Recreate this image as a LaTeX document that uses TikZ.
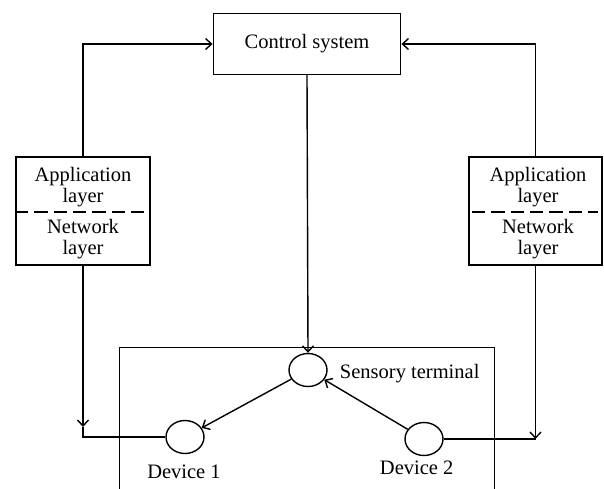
\documentclass[tikz,border=0pt]{standalone}
\usepackage{fontspec}
\setmainfont{Liberation Serif}
\usetikzlibrary{arrows.meta,shapes.geometric}
\begin{document}
\begin{tikzpicture}[x=1pt,y=-1pt,
  every node/.style={font=\fontsize{20.5}{21}\selectfont, inner sep=0pt},
  box/.style={draw, line width=1.4pt, rectangle},
  dev/.style={draw, ellipse, line width=1.4pt, minimum width=38pt, minimum height=33pt},
  conn/.style={line width=1.4pt},
  arr/.style={conn, -{Straight Barb[length=6pt,width=11pt]}},
  sep/.style={line width=1.8pt, dash pattern=on 13.3pt off 6pt}]
\useasboundingbox (0,0) rectangle (604,488);
% boxes
\node[box, minimum width=187.5pt, minimum height=61pt] (ctrl) at (307,44) {Control system};
\node[box, minimum width=134pt, minimum height=108pt] (lbox) at (83,211) {};
\node[box, minimum width=133pt, minimum height=108pt] (rbox) at (535.5,211) {};
\node[align=center] (lapp) at (83,187) {Application\\layer};
\node[align=center] (lnet) at (83,239) {Network\\layer};
\node[align=center] (rapp) at (538,187) {Application\\layer};
\node[align=center] (rnet) at (538,239) {Network\\layer};
\draw[sep] (15,211.7) -- (146,211.7);
\draw[sep] (472,211.7) -- (598,211.7);
% enclosure
\draw[line width=0.9pt] (119.3,490) |- (494.3,347.5) -- (494.3,490);
% devices
\node[dev] (sens) at (308,370) {};
\node[dev] (d1) at (185,437) {};
\node[dev] (d2) at (424,439) {};
\node (senslbl) at (409.7,373.5) {Sensory terminal};
\node (d1lbl) at (184,472) {Device 1};
\node (d2lbl) at (416.7,468) {Device 2};
% connectors
\draw[arr] (ctrl.south) -- (sens.north);
\draw[arr] (sens) -- (d1);
\draw[arr] (d2) -- (sens);
\draw[arr] (lbox.north) |- (ctrl.west);
\draw[arr] (rbox.north) |- (ctrl.east);
\coordinate (ltip) at (83,427);
\draw[arr] (lbox.south) -- (ltip);
\draw[conn] (ltip) |- (d1.west);
\coordinate (rtip) at (535.5,439);
\draw[arr] (rbox.south) -- (rtip);
\draw[conn] (d2.east) -- (rtip);
\end{tikzpicture}
\end{document}
